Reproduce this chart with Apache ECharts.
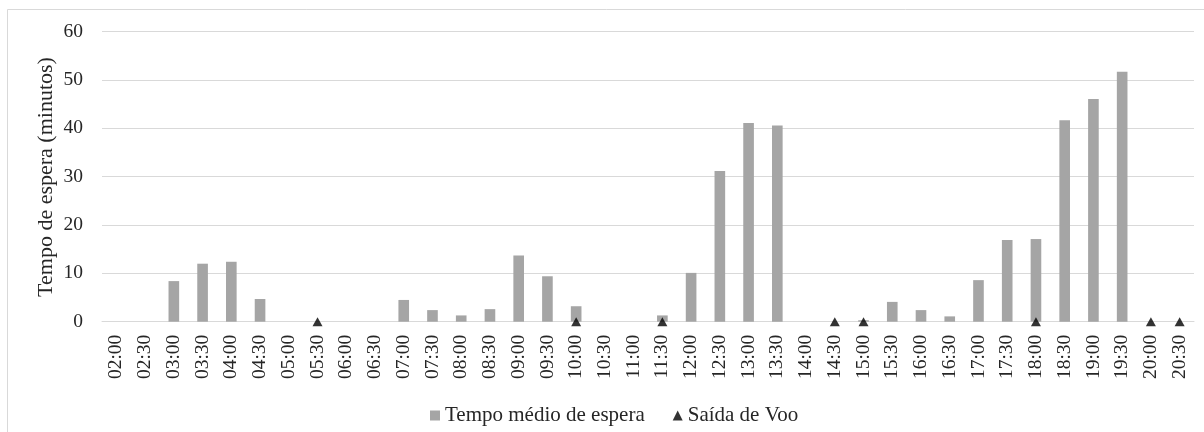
<!DOCTYPE html>
<html>
<head>
<meta charset="utf-8">
<script src="https://cdn.jsdelivr.net/npm/echarts@6/dist/echarts.min.js"></script>
<style>
  html, body { margin: 0; padding: 0; background: #fff; }
  #main { width: 1204px; height: 432px; }
</style>
</head>
<body>
<div id="main"></div>
<script>
// horários (eixo x)
var horarios = ['02:00','02:30','03:00','03:30','04:00','04:30','05:00','05:30','06:00','06:30',
  '07:00','07:30','08:00','08:30','09:00','09:30','10:00','10:30','11:00','11:30',
  '12:00','12:30','13:00','13:30','14:00','14:30','15:00','15:30','16:00','16:30',
  '17:00','17:30','18:00','18:30','19:00','19:30','20:00','20:30'];

// tempo médio de espera (minutos)
var tempoMedio = [0, 0, 8.4, 12.0, 12.4, 4.7, 0, 0, 0, 0,
  4.5, 2.4, 1.3, 2.6, 13.7, 9.4, 3.2, 0, 0, 1.3,
  10.1, 31.2, 41.1, 40.6, 0, 0, 0.3, 4.1, 2.4, 1.1,
  8.6, 16.9, 17.1, 41.7, 46.1, 51.7, 0, 0];

// horários com saída de voo
var saidasVoo = ['05:30', '10:00', '11:30', '14:30', '15:00', '18:00', '20:00', '20:30'];

var yTicks = [0, 10, 20, 30, 40, 50, 60];
var tituloY = 'Tempo de espera (minutos)';

var chart = echarts.init(document.getElementById('main'));

var fonte = 'Liberation Serif, Times New Roman, serif';
var corTexto = '#262626';

var option = {
  animation: false,
  backgroundColor: '#fff',
  textStyle: { fontFamily: fonte },
  graphic: [
    // moldura externa
    {
      type: 'rect',
      shape: { x: 7.5, y: 9.5, width: 1210, height: 440 },
      style: { fill: 'none', stroke: '#d9d9d9', lineWidth: 1 },
      silent: true
    },
    // título do eixo y
    {
      type: 'text',
      x: 46,
      y: 177,
      rotation: Math.PI / 2,
      style: {
        text: tituloY,
        fontFamily: fonte,
        fontSize: 22,
        fill: corTexto,
        align: 'center',
        verticalAlign: 'middle'
      },
      silent: true
    }
  ],
  grid: { left: 102, right: 10, top: 31.7, bottom: 110.3 },
  legend: {
    left: 425,
    top: 400,
    itemGap: 28,
    itemWidth: 10,
    itemHeight: 10,
    textStyle: { fontFamily: fonte, fontSize: 21, color: corTexto },
    data: [
      { name: 'Tempo médio de espera', icon: 'rect' },
      { name: 'Saída de Voo', icon: 'triangle' }
    ]
  },
  xAxis: {
    type: 'category',
    data: horarios,
    axisLine: { lineStyle: { color: '#d9d9d9', width: 1 } },
    axisTick: { show: false },
    axisLabel: {
      rotate: 90,
      interval: 0,
      margin: 13,
      fontFamily: fonte,
      fontSize: 19.5,
      color: corTexto
    }
  },
  yAxis: {
    type: 'value',
    min: yTicks[0],
    max: yTicks[yTicks.length - 1],
    interval: 10,
    axisLine: { show: false },
    axisTick: { show: false },
    splitLine: { lineStyle: { color: '#d9d9d9', width: 1 } },
    axisLabel: { margin: 19, fontFamily: fonte, fontSize: 19.5, color: corTexto }
  },
  series: [
    {
      name: 'Tempo médio de espera',
      type: 'bar',
      data: tempoMedio,
      barWidth: '37%',
      itemStyle: { color: '#a5a5a5' }
    },
    {
      name: 'Saída de Voo',
      type: 'scatter',
      symbol: 'triangle',
      symbolSize: [10, 9],
      itemStyle: { color: '#000' },
      z: 5,
      data: saidasVoo.map(function (h) { return [h, 0]; })
    }
  ]
};

chart.setOption(option);
</script>
</body>
</html>
